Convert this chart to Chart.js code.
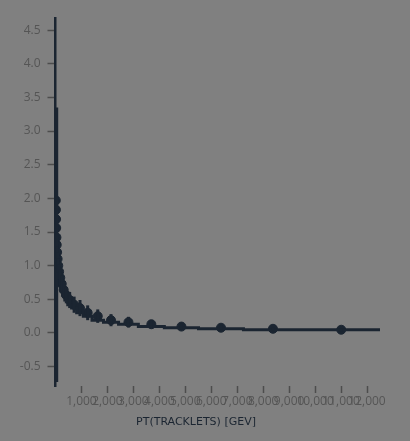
<!DOCTYPE html>
<html>
<head>
<meta charset="utf-8">
<script src="https://cdn.jsdelivr.net/npm/chart.js@4/dist/chart.umd.min.js"></script>
<style>
  html, body { margin: 0; padding: 0; background: #808080; }
  canvas { display: block; }
</style>
</head>
<body>
<canvas id="c" width="410" height="441"></canvas>
<script>
(function () {
    'use strict';

    // bin edges of the pT histogram (log-like binning)
    const binEdges = [10, 14, 18, 23, 31, 40, 53, 70, 92, 120, 158, 208, 273, 359, 472, 620, 815, 1071, 1407, 1848, 2429, 3191, 4193, 5510, 7240, 9513, 12500];
    const binValues = [1.97, 1.83, 1.69, 1.56, 1.42, 1.31, 1.20, 1.10, 1.00, 0.91, 0.82, 0.73, 0.64, 0.56, 0.49, 0.42, 0.37, 0.30, 0.25, 0.19, 0.16, 0.13, 0.095, 0.078, 0.062, 0.048];
    const binErrors = [0.06, 0.06, 0.06, 0.07, 0.08, 2.04, 0.09, 0.10, 0.10, 0.11, 0.12, 0.12, 0.12, 0.12, 0.12, 0.12, 0.12, 0.11, 0.10, 0.09, 0.08, 0.06, 0.04, 0.03, 0.025, 0.02];
    const xTicks = [1000, 2000, 3000, 4000, 5000, 6000, 7000, 8000, 9000, 10000, 11000, 12000];
    const yTicks = [-0.5, 0, 0.5, 1, 1.5, 2, 2.5, 3, 3.5, 4, 4.5];
    const xTitle = 'PT(TRACKLETS) [GEV]';

    const INK = '#1b2531';
    const TICK = '#4d4d4d';

    const stepData = binEdges.map((e, i) => ({ x: e, y: binValues[Math.min(i, binValues.length - 1)] }));
    const pointData = binValues.map((v, i) => ({ x: (binEdges[i] + binEdges[i + 1]) / 2, y: v, err: binErrors[i] }));

    const errorBars = {
        id: 'errorBars',
        afterDatasetsDraw(chart) {
            const { ctx, scales: { x, y } } = chart;
            ctx.save();
            ctx.strokeStyle = INK;
            ctx.lineWidth = 3;
            pointData.forEach(p => {
                const px = x.getPixelForValue(p.x);
                ctx.beginPath();
                ctx.moveTo(px, y.getPixelForValue(p.y - p.err));
                ctx.lineTo(px, y.getPixelForValue(p.y + p.err));
                ctx.stroke();
            });
            ctx.restore();
        }
    };

    // axis title sits a bit left of the plot centre in the original
    const axisTitle = {
        id: 'axisTitle',
        afterDraw(chart) {
            const ctx = chart.ctx;
            ctx.save();
            ctx.fillStyle = INK;
            ctx.font = '11px "DejaVu Sans"';
            ctx.textAlign = 'center';
            ctx.textBaseline = 'middle';
            ctx.fillText(xTitle, 196, 422);
            ctx.restore();
        }
    };

    new Chart(document.getElementById('c'), {
        type: 'scatter',
        data: {
            datasets: [
                { type: 'line', data: stepData, stepped: 'after', borderColor: INK, borderWidth: 3, pointRadius: 0, fill: false },
                { data: pointData, backgroundColor: INK, borderColor: INK, pointRadius: 4.5, pointHoverRadius: 4.5 }
            ]
        },
        options: {
            responsive: false, animation: false, devicePixelRatio: 1,
            layout: { padding: { top: 18, right: 30, left: 0, bottom: 0 } },
            plugins: { legend: { display: false }, tooltip: { enabled: false } },
            scales: {
                x: {
                    type: 'linear', min: 0, max: 12500,
                    afterBuildTicks: s => { s.ticks = xTicks.map(v => ({ value: v })); },
                    afterFit: s => { s.height = 55; },
                    border: { display: false },
                    grid: { drawOnChartArea: false, tickLength: 7, tickColor: TICK, tickWidth: 1.5 },
                    ticks: { autoSkip: false, maxRotation: 0, padding: 1, color: '#555', font: { family: 'Open Sans', size: 12 },
                             callback: v => v.toLocaleString('en-US') },
                    title: { display: false }
                },
                y: {
                    type: 'linear', min: -0.788, max: 4.68,
                    afterBuildTicks: s => { s.ticks = yTicks.map(v => ({ value: v })); },
                    afterFit: s => { s.width = 55.5; },
                    border: { display: true, color: INK, width: 2.5 },
                    grid: { drawOnChartArea: false, tickLength: 8, tickColor: TICK, tickWidth: 1.5 },
                    ticks: { padding: 7, color: '#555', font: { family: 'Open Sans', size: 12 },
                             callback: v => v.toFixed(1) }
                }
            }
        },
        plugins: [errorBars, axisTitle]
    });
})();
</script>
</body>
</html>
